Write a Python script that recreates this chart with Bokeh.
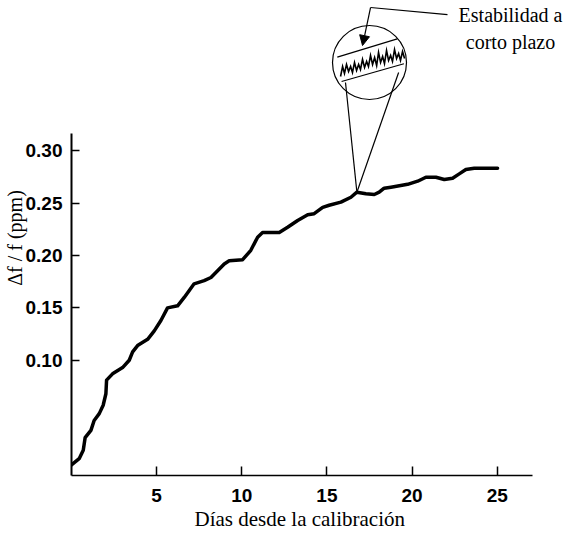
from bokeh.plotting import figure
from bokeh.models import (Range1d, LinearAxis, FixedTicker, PrintfTickFormatter,
                          Arrow, NormalHead, Label, Title)
from bokeh.embed import file_html
from bokeh.resources import INLINE

# Frequency drift of the oscillator after calibration
days = [0.0, 0.45, 0.69, 0.80, 1.14, 1.33, 1.63, 1.86, 2.02, 2.06, 2.41, 3.00,
        3.39, 3.59, 3.88, 4.47, 4.86, 5.25, 5.64, 6.23, 6.62, 7.20, 7.79, 8.19,
        8.97, 9.26, 10.05, 10.53, 10.93, 11.22, 12.20, 12.69, 13.28, 13.87,
        14.25, 14.75, 15.13, 15.82, 16.41, 16.76, 17.29, 17.78, 18.07, 18.36,
        18.76, 19.74, 20.33, 20.81, 21.40, 21.89, 22.38, 22.77, 23.16, 23.65,
        25.02]
drift_ppm = [0.000, 0.006, 0.014, 0.026, 0.033, 0.0425, 0.049, 0.057, 0.068,
             0.081, 0.087, 0.093, 0.100, 0.108, 0.114, 0.120, 0.128, 0.138,
             0.150, 0.152, 0.160, 0.173, 0.176, 0.179, 0.192, 0.195, 0.196,
             0.205, 0.2175, 0.222, 0.222, 0.227, 0.2335, 0.239, 0.240, 0.246,
             0.248, 0.251, 0.2557, 0.2605, 0.259, 0.2583, 0.2605, 0.2643,
             0.2653, 0.268, 0.271, 0.2748, 0.2748, 0.2726, 0.2739, 0.278,
             0.2822, 0.2834, 0.2834]

x_ticks = [5, 10, 15, 20, 25]
y_ticks = [0.10, 0.15, 0.20, 0.25, 0.30]

# Magnified view of the short-term jitter around one point of the curve
zoom_index = 39
jitter_days = [15.80, 15.92, 16.03, 16.15, 16.27, 16.39, 16.50, 16.62, 16.74,
               16.86, 16.97, 17.09, 17.21, 17.33, 17.44, 17.56, 17.68, 17.80,
               17.92, 18.03, 18.15, 18.27, 18.38, 18.50, 18.62, 18.74, 18.85,
               18.97, 19.09, 19.21, 19.32, 19.44, 19.56]
jitter_ppm = [0.3710, 0.3806, 0.3739, 0.3825, 0.3758, 0.3806, 0.3748, 0.3844,
              0.3768, 0.3825, 0.3777, 0.3873, 0.3796, 0.3854, 0.3806, 0.3911,
              0.3825, 0.3892, 0.3815, 0.3940, 0.3844, 0.3901, 0.3834, 0.3959,
              0.3863, 0.3911, 0.3854, 0.3968, 0.3882, 0.3930, 0.3863, 0.3949,
              0.3882]

LABEL_FONT = "Liberation Serif"
TICK_FONT = "Liberation Sans"

p = figure(width=565, height=536,
           x_range=Range1d(0, 29.01), y_range=Range1d(-0.0101, 0.4436),
           x_axis_type=None, y_axis_type=None,
           output_backend="svg", toolbar_location=None,
           min_border_left=71, min_border_right=0,
           min_border_top=0, min_border_bottom=61)
p.outline_line_color = None
p.background_fill_color = "white"
p.border_fill_color = "white"

# x axis
xaxis = LinearAxis(ticker=FixedTicker(ticks=x_ticks), bounds=(0, 27.05))
xaxis.axis_line_width = 1.6
xaxis.axis_line_color = "black"
xaxis.major_tick_in = 9
xaxis.major_tick_out = 0
xaxis.major_tick_line_width = 1.5
xaxis.major_tick_line_color = "black"
xaxis.minor_tick_line_color = None
xaxis.major_label_text_font = TICK_FONT
xaxis.major_label_text_font_style = "bold"
xaxis.major_label_text_font_size = "19px"
xaxis.major_label_text_color = "black"
xaxis.major_label_standoff = 13
p.add_layout(xaxis, "below")

# x axis title, centred under the drawn axis line
p.add_layout(Title(text="Días desde la calibración", align="left", offset=123,
                   text_font=LABEL_FONT, text_font_size="21px",
                   text_font_style="normal", text_color="black", standoff=0),
             "below")

# y axis (ticks only)
yaxis = LinearAxis(ticker=FixedTicker(ticks=y_ticks), bounds=(-0.0101, 0.3165),
                   formatter=PrintfTickFormatter(format="%.2f"))
yaxis.axis_line_width = 2
yaxis.axis_line_color = "black"
yaxis.major_tick_in = 8
yaxis.major_tick_out = 0
yaxis.major_tick_line_width = 1.5
yaxis.major_tick_line_color = "black"
yaxis.minor_tick_line_color = None
yaxis.major_label_text_font = TICK_FONT
yaxis.major_label_text_font_style = "bold"
yaxis.major_label_text_font_size = "19px"
yaxis.major_label_text_color = "black"
yaxis.major_label_standoff = 9
p.add_layout(yaxis, "left")

# y axis title
ytitle = LinearAxis(ticker=FixedTicker(ticks=[]), axis_label="Δf / f (ppm)")
ytitle.axis_line_color = None
ytitle.major_tick_line_color = None
ytitle.minor_tick_line_color = None
ytitle.major_tick_in = 0
ytitle.major_tick_out = 0
ytitle.major_label_standoff = 0
ytitle.axis_label_text_font = LABEL_FONT
ytitle.axis_label_text_font_style = "normal"
ytitle.axis_label_text_font_size = "20px"
ytitle.axis_label_text_color = "black"
ytitle.axis_label_standoff = -3
p.add_layout(ytitle, "left")

# drift curve
p.line(days, drift_ppm, line_color="black", line_width=3.5,
       line_join="round", line_cap="round")

# magnifier: circle, window, jitter trace and cone down to the curve
apex_x = days[zoom_index]
apex_y = drift_ppm[zoom_index]
p.scatter([17.50], [0.3844], marker="circle", size=74, fill_color=None,
          line_color="black", line_width=1.2)
p.multi_line(xs=[[15.61, 19.13], [15.86, 19.52], [16.09, apex_x], [19.21, apex_x]],
             ys=[[0.3895, 0.4070], [0.3662, 0.3832], [0.3653, apex_y], [0.3748, apex_y]],
             line_color="black", line_width=1.2)
p.line(jitter_days, jitter_ppm, line_color="black", line_width=1.6,
       line_join="miter")

# callout
p.line([22.08, 17.56], [0.4302, 0.4369], line_color="black", line_width=1.2)
p.add_layout(Arrow(end=NormalHead(size=10, fill_color="black", line_color="black",
                                  line_width=1),
                   x_start=17.56, y_start=0.4369, x_end=17.09, y_end=0.4006,
                   line_color="black", line_width=1.2))
for txt, ty in [("Estabilidad a", 0.4293), ("corto plazo", 0.4035)]:
    p.add_layout(Label(x=25.78, y=ty, text=txt, text_font=LABEL_FONT,
                       text_font_size="20px", text_align="center",
                       text_baseline="middle", text_color="black"))

open("out.html", "w").write(file_html(p, INLINE))
